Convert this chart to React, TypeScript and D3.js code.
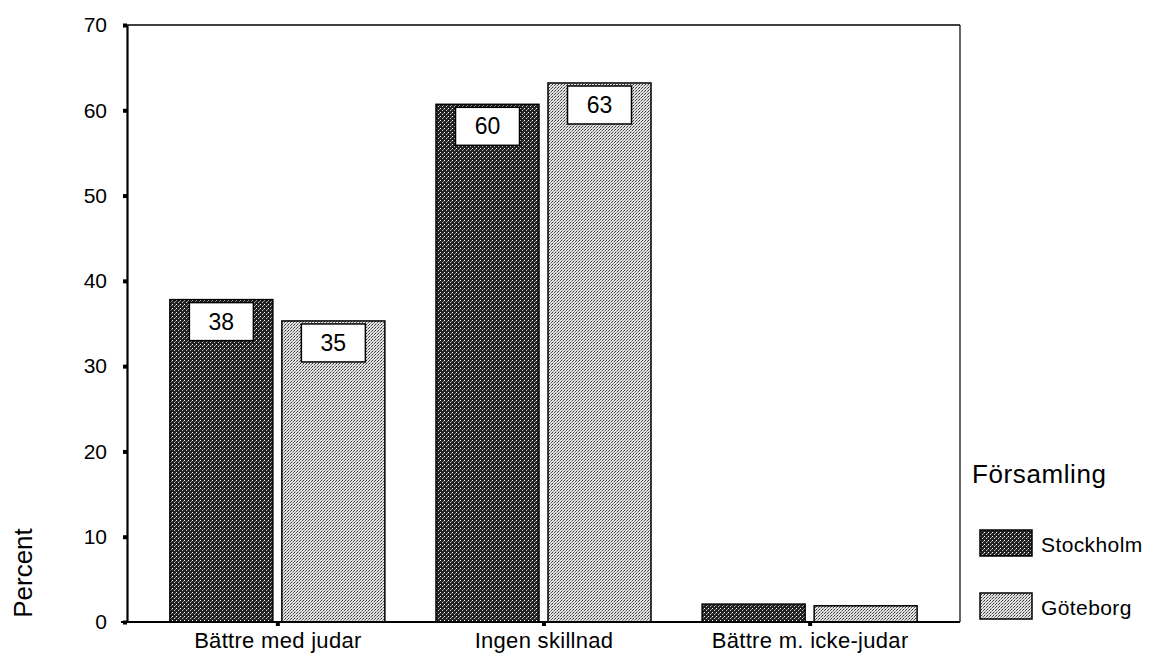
import React, { useEffect, useRef } from 'react';
import * as d3 from 'd3';

const categories = ['Bättre med judar', 'Ingen skillnad', 'Bättre m. icke-judar'];
const seriesNames = ['Stockholm', 'Göteborg'];
const stockholm = [37.8, 60.7, 2.1];
const goteborg = [35.3, 63.2, 1.9];
const labelsStockholm = ['38', '60', null];
const labelsGoteborg = ['35', '63', null];
const yTicks = [0, 10, 20, 30, 40, 50, 60, 70];

const App: React.FC = () => {
  const ref = useRef<SVGSVGElement>(null);

  useEffect(() => {
    if (!ref.current) return;
    const svg = d3.select(ref.current);
    svg.selectAll('*').remove();

    const font = '"Liberation Sans", Arial, sans-serif';
    const left = 127, right = 960, top = 25, bottom = 622;

    const defs = svg.append('defs');
    // dark halftone
    const pd = defs.append('pattern').attr('id', 'pat-dark')
      .attr('patternUnits', 'userSpaceOnUse').attr('width', 4).attr('height', 4);
    pd.append('rect').attr('width', 4).attr('height', 4).attr('fill', '#222');
    pd.append('rect').attr('x', 0).attr('y', 0).attr('width', 1).attr('height', 1).attr('fill', '#fff');
    pd.append('rect').attr('x', 2).attr('y', 2).attr('width', 1).attr('height', 1).attr('fill', '#ccc');
    pd.append('rect').attr('x', 3).attr('y', 1).attr('width', 1).attr('height', 1).attr('fill', '#888');
    // light stipple
    const pl = defs.append('pattern').attr('id', 'pat-light')
      .attr('patternUnits', 'userSpaceOnUse').attr('width', 3).attr('height', 3);
    pl.append('rect').attr('width', 3).attr('height', 3).attr('fill', '#e2e2e2');
    pl.append('rect').attr('x', 0).attr('y', 0).attr('width', 1).attr('height', 1).attr('fill', '#333');
    pl.append('rect').attr('x', 2).attr('y', 1).attr('width', 1).attr('height', 1).attr('fill', '#555');
    pl.append('rect').attr('x', 1).attr('y', 2).attr('width', 1).attr('height', 1).attr('fill', '#999');
    const fills = ['url(#pat-dark)', 'url(#pat-light)'];

    const x = d3.scalePoint<string>().domain(categories).range([left, right]).padding(0.565);
    const y = d3.scaleLinear().domain([0, 70]).range([bottom, top]);

    const barW = 103, gap = 9;
    const series = [stockholm, goteborg];
    const labels = [labelsStockholm, labelsGoteborg];

    // frame
    svg.append('line').attr('x1', left).attr('x2', right).attr('y1', top).attr('y2', top)
      .attr('stroke', '#000').attr('stroke-width', 1.5);
    svg.append('line').attr('x1', right).attr('x2', right).attr('y1', top).attr('y2', bottom)
      .attr('stroke', '#000').attr('stroke-width', 1.2);

    series.forEach((vals, si) => {
      vals.forEach((v, ci) => {
        const cx = x(categories[ci]) as number;
        const bx = si === 0 ? cx - gap / 2 - barW : cx + gap / 2;
        svg.append('rect')
          .attr('x', bx).attr('y', y(v))
          .attr('width', barW).attr('height', y(0) - y(v))
          .attr('fill', fills[si]).attr('stroke', '#000').attr('stroke-width', 1.5);
        const lab = labels[si][ci];
        if (lab) {
          const bw = 64, bh = 38;
          const lx = bx + (barW - bw) / 2;
          const ly = y(v) + 3;
          svg.append('rect').attr('x', lx).attr('y', ly).attr('width', bw).attr('height', bh)
            .attr('fill', '#fff').attr('stroke', '#000').attr('stroke-width', 1.5);
          svg.append('text').attr('x', lx + bw / 2).attr('y', ly + 27)
            .attr('text-anchor', 'middle').attr('font-family', font).attr('font-size', 23)
            .text(lab);
        }
      });
    });

    // y axis
    const yAxis = svg.append('g').attr('transform', `translate(${left},0)`)
      .call(d3.axisLeft(y).tickValues(yTicks).tickSize(4).tickSizeOuter(0).tickPadding(16));
    yAxis.select('.domain').attr('stroke-width', 2.2);
    yAxis.selectAll('.tick line').attr('stroke-width', 4);
    yAxis.selectAll('.tick text').attr('font-family', font).attr('font-size', 21).attr('fill', '#000');

    // x axis
    const xAxis = svg.append('g').attr('transform', `translate(0,${bottom})`)
      .call(d3.axisBottom(x).tickSize(4).tickSizeOuter(0).tickPadding(8));
    xAxis.select('.domain').attr('stroke-width', 2.2).attr('d', `M${left - 6},0H${right}`);
    xAxis.selectAll('.tick line').attr('stroke-width', 4);
    xAxis.selectAll('.tick text').attr('font-family', font).attr('font-size', 22)
      .attr('letter-spacing', 0.3).attr('fill', '#000').attr('dy', '0.62em');

    // y title
    svg.append('text').attr('transform', 'translate(32,573) rotate(-90)')
      .attr('text-anchor', 'middle').attr('font-family', font).attr('font-size', 26)
      .text('Percent');

    // legend
    svg.append('text').attr('x', 972).attr('y', 483).attr('font-family', font).attr('font-size', 26)
      .attr('letter-spacing', 0.6).text('Församling');
    seriesNames.forEach((name, i) => {
      const ly = 530 + i * 63;
      svg.append('rect').attr('x', 980).attr('y', ly).attr('width', 52).attr('height', 26)
        .attr('fill', fills[i]).attr('stroke', '#000').attr('stroke-width', 1.5);
      svg.append('text').attr('x', 1041).attr('y', ly + 22).attr('font-family', font).attr('font-size', 21)
        .attr('letter-spacing', 0.4).text(name);
    });
  }, []);

  return (
    <svg ref={ref} width={1156} height={656}
      style={{ position: 'absolute', left: 0, top: 0, background: '#fff' }} />
  );
};

export default App;
